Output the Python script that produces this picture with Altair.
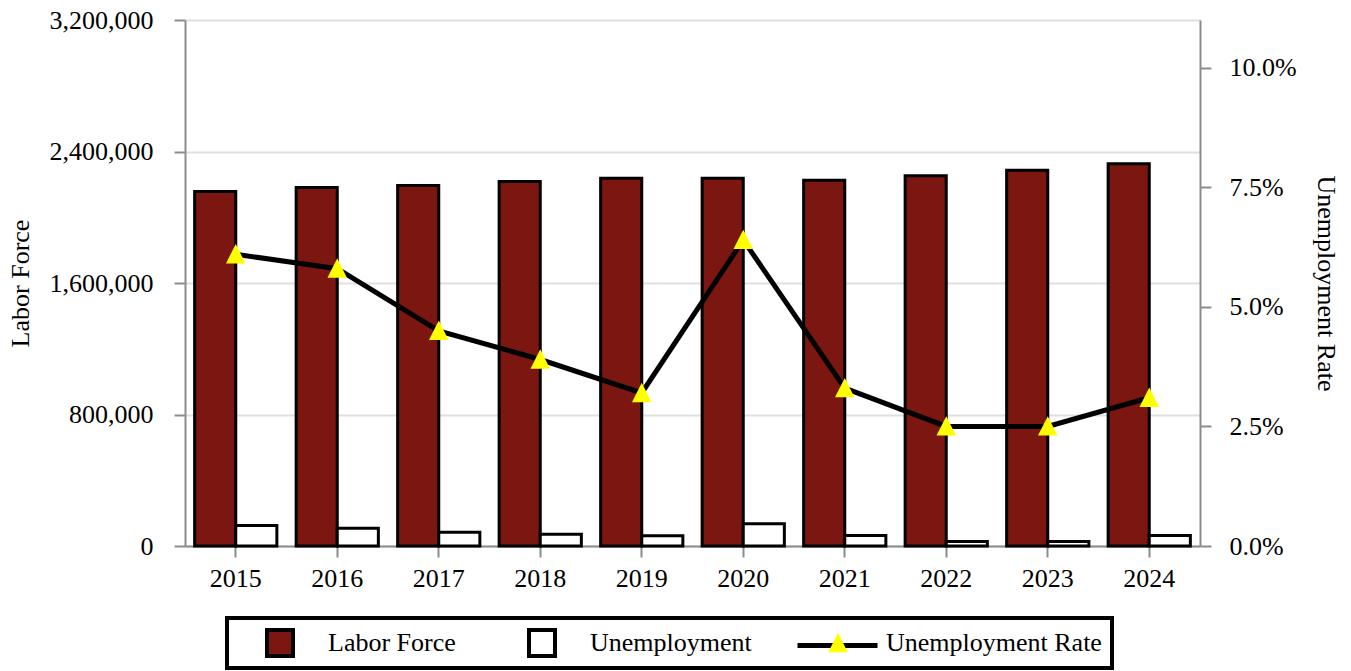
import altair as alt
import pandas as pd

# ---- data ----
years = ["2015", "2016", "2017", "2018", "2019", "2020", "2021", "2022", "2023", "2024"]
labor_force = [2156700, 2181000, 2193000, 2217500, 2238000, 2238000, 2225500, 2252000, 2286000, 2325000]
unemployment = [124700, 108300, 84000, 71800, 62000, 135000, 63900, 27400, 27400, 63900]
unemployment_rate = [0.061, 0.058, 0.045, 0.039, 0.032, 0.064, 0.033, 0.025, 0.025, 0.031]
series_names = ["Labor Force", "Unemployment", "Unemployment Rate"]
left_ticks = [0, 800000, 1600000, 2400000, 3200000]
right_ticks = [0.0, 0.025, 0.05, 0.075, 0.10]

bar_df = pd.DataFrame({
    "year": years * 2,
    "series": [series_names[0]] * len(years) + [series_names[1]] * len(years),
    "value": labor_force + unemployment,
})
rate_df = pd.DataFrame({
    "year": years,
    "rate": unemployment_rate,
    "series": [series_names[2]] * len(years),
})

FONT = "Liberation Serif"
DARK_RED = "#7b1710"
AXIS_GRAY = "#8c8c8c"

square_path = "M-1,-1L1,-1L1,1L-1,1Z"
triangle_path = "M0,-0.45L0.5,0.55L-0.5,0.55Z"

legend_main = alt.Legend(
    title=None,
    orient="none",
    legendX=42,
    legendY=598,
    direction="horizontal",
    columns=3,
    strokeColor="black",
    padding=10,
    clipHeight=30,
    symbolSize=676,
    symbolStrokeWidth=4,
    symbolOffset=28,
    labelFont=FONT,
    labelFontSize=26,
    labelColor="black",
    labelOffset=33,
    labelLimit=500,
    columnPadding=43,
    zindex=2,
)

legend_line = alt.Legend(
    title=None,
    orient="none",
    legendX=610,
    legendY=583,
    symbolType="stroke",
    symbolSize=6400,
    symbolStrokeColor="black",
    padding=0,
    labelExpr="''",
    labelFontSize=1,
    zindex=1,
)

x_enc = alt.X(
    "year:N",
    sort=years,
    scale=alt.Scale(paddingInner=0.19, paddingOuter=0.095),
    axis=alt.Axis(title=None, labelAngle=0, labelPadding=8, tickSize=11),
)

bars = alt.Chart(bar_df).mark_bar(stroke="black", strokeWidth=3).encode(
    x=x_enc,
    xOffset=alt.XOffset("series:N", sort=series_names[:2],
                        scale=alt.Scale(domain=series_names[:2], paddingInner=0, paddingOuter=0)),
    y=alt.Y(
        "value:Q",
        scale=alt.Scale(domain=[0, 3200000], nice=False, zero=True),
        axis=alt.Axis(
            values=left_ticks, format=",d", title="Labor Force",
            tickSize=11, labelPadding=21,
            titleX=-165, titleY=263, titleAngle=-90, titleBaseline="middle", titleAlign="center",
        ),
    ),
    fill=alt.Fill("series:N", sort=series_names,
                  scale=alt.Scale(domain=series_names, range=[DARK_RED, "white", "yellow"]),
                  legend=legend_main),
)

rate_y = alt.Y(
    "rate:Q",
    scale=alt.Scale(domain=[0, 0.11], nice=False, zero=True),
    axis=alt.Axis(
        orient="right", values=right_ticks, format=".1%", title="Unemployment Rate",
        grid=False, tickSize=11, labelPadding=18,
        titleX=125, titleY=263, titleAngle=90, titleBaseline="middle", titleAlign="center",
    ),
)

line = alt.Chart(rate_df).mark_line(color="black").encode(
    x=alt.X("year:N", sort=years),
    y=rate_y,
    strokeWidth=alt.StrokeWidth("series:N",
                                scale=alt.Scale(type="ordinal", domain=[series_names[2]], range=[5]),
                                legend=legend_line),
)
points = alt.Chart(rate_df).mark_point(
    filled=True, size=676, opacity=1, strokeWidth=4
).encode(
    x=alt.X("year:N", sort=years),
    y=rate_y,
    fill=alt.Fill("series:N", sort=series_names,
                  scale=alt.Scale(domain=series_names, range=[DARK_RED, "white", "yellow"]),
                  legend=legend_main),
    stroke=alt.Stroke("series:N", sort=series_names,
                      scale=alt.Scale(domain=series_names, range=["black", "black", "yellow"]),
                      legend=legend_main),
    shape=alt.Shape("series:N", sort=series_names,
                    scale=alt.Scale(domain=series_names, range=[square_path, square_path, triangle_path]),
                    legend=legend_main),
)

chart = alt.layer(bars, alt.layer(line, points)).resolve_scale(
    y="independent"
).properties(
    width=1015,
    height=526,
    autosize=alt.AutoSizeParams(type="none"),
    padding={"left": 185, "top": 20, "right": 151, "bottom": 125},
    background="white",
).configure_view(
    stroke=None
).configure_axis(
    labelFont=FONT, labelFontSize=26, labelColor="black",
    titleFont=FONT, titleFontSize=26, titleColor="black", titleFontWeight="normal",
    domainColor=AXIS_GRAY, domainWidth=2, tickColor=AXIS_GRAY, tickWidth=2,
    gridColor="#e0e0e0", gridWidth=2,
).configure_legend(
    strokeWidth=4,
)

chart.save("out.html", embed_options={"renderer": "svg", "actions": False})
